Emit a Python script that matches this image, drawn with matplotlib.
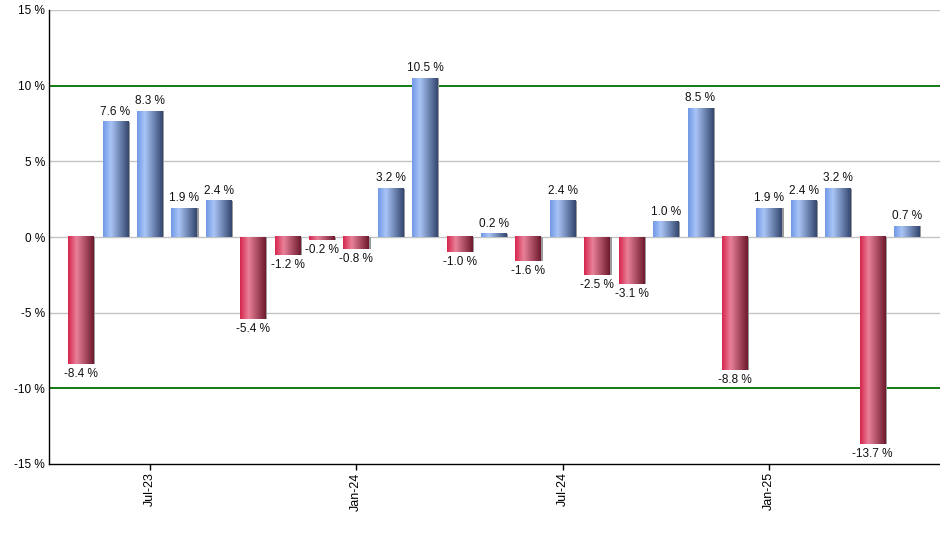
import numpy as np
import matplotlib.pyplot as plt
from matplotlib.colors import LinearSegmentedColormap

plt.rcParams['font.family'] = ['Liberation Sans', 'DejaVu Sans']

# monthly returns, May-23 .. May-25
months = ['May-23', 'Jun-23', 'Jul-23', 'Aug-23', 'Sep-23', 'Oct-23', 'Nov-23', 'Dec-23',
          'Jan-24', 'Feb-24', 'Mar-24', 'Apr-24', 'May-24', 'Jun-24', 'Jul-24', 'Aug-24',
          'Sep-24', 'Oct-24', 'Nov-24', 'Dec-24', 'Jan-25', 'Feb-25', 'Mar-25', 'Apr-25',
          'May-25']
returns = [-8.4, 7.6, 8.3, 1.9, 2.4, -5.4, -1.2, -0.2, -0.8, 3.2, 10.5, -1.0, 0.2, -1.6,
           2.4, -2.5, -3.1, 1.0, 8.5, -8.8, 1.9, 2.4, 3.2, -13.7, 0.7]
tick_labels = ['Jul-23', 'Jan-24', 'Jul-24', 'Jan-25']
y_ticks = [-15, -10, -5, 0, 5, 10, 15]

blue_cm = LinearSegmentedColormap.from_list(
    'blue', [(0, '#7299e6'), (0.3, '#a9c5f7'), (1, '#34476f')])
red_cm = LinearSegmentedColormap.from_list(
    'red', [(0, '#d6264e'), (0.33, '#e98199'), (1, '#6e1a2e')])

fig = plt.figure(figsize=(9.4, 5.5), dpi=100)
ax = fig.add_axes([49 / 940, 86 / 550, 891 / 940, 454 / 550])

grad = np.linspace(0, 1, 64).reshape(1, -1)
w = 0.75
x = np.arange(len(returns))
for i, v in zip(x, returns):
    cm = blue_cm if v >= 0 else red_cm
    # thin shadow on the right side
    ax.bar(i + 0.04, v, width=w, color='#9a9a9a', zorder=2)
    ax.imshow(grad, extent=(i - w / 2, i + w / 2, min(v, 0), max(v, 0)),
              cmap=cm, aspect='auto', interpolation='bicubic', zorder=3)
    if v >= 0:
        ax.annotate(f'{v:.1f} %', (i, v), xytext=(0, 3), textcoords='offset points',
                    ha='center', va='bottom', fontsize=8.5, color='#111111')
    else:
        ax.annotate(f'{v:.1f} %', (i, v), xytext=(0, -3), textcoords='offset points',
                    ha='center', va='top', fontsize=8.5, color='#111111')

for yv in [-5, 0, 5, 15]:
    ax.axhline(yv, color='#c4c4c4', lw=1, zorder=1)
for yv in [-10, 10]:
    ax.axhline(yv, color='#007000', lw=1.3, zorder=1)

ax.set_xlim(-0.93, 24.96)
ax.set_ylim(-15, 15)
ax.set_yticks(y_ticks)
ax.set_yticklabels([f'{t} %' for t in y_ticks], fontsize=8.5)
ax.tick_params(axis='y', length=0, pad=3)
ax.set_xticks([months.index(t) for t in tick_labels])
ax.set_xticklabels(tick_labels, rotation=90, fontsize=9)
ax.tick_params(axis='x', length=4, width=1, pad=2)

for s in ['top', 'right']:
    ax.spines[s].set_visible(False)
for s in ['left', 'bottom']:
    ax.spines[s].set_color('black')
    ax.spines[s].set_linewidth(1)

fig.savefig('out.png', dpi=100)
